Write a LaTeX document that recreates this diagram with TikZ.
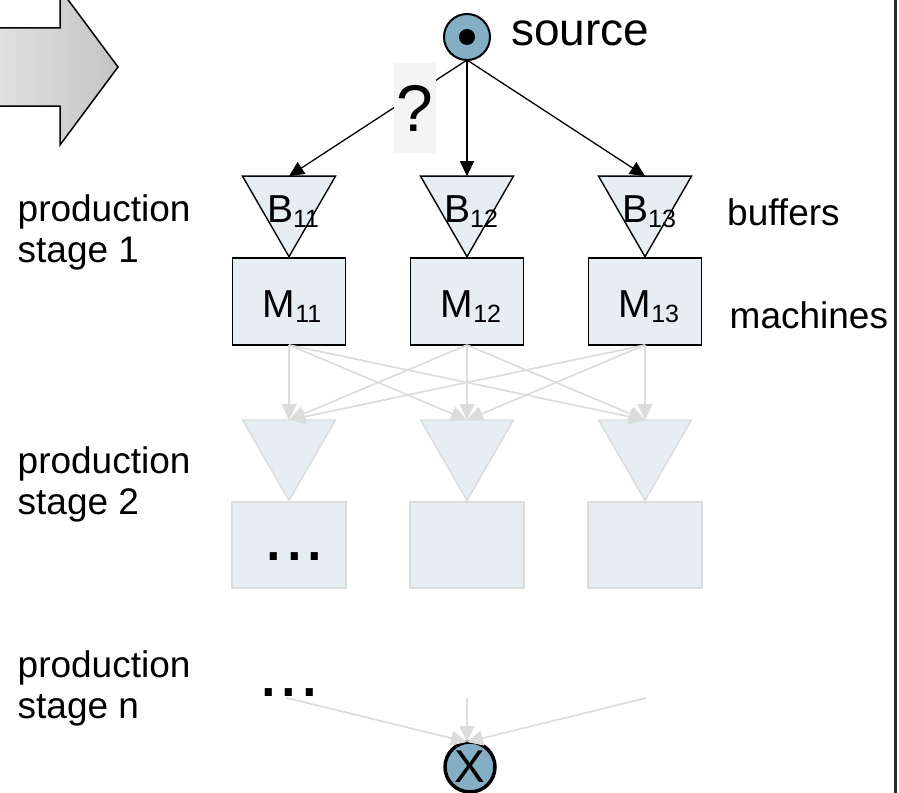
\documentclass[tikz,border=0pt]{standalone}
\usepackage{fontspec}
\setmainfont{Liberation Sans}
\usetikzlibrary{shapes.geometric,arrows.meta}

\definecolor{cellfill}{HTML}{E6EEF2}
\definecolor{ghost}{HTML}{DCDCDC}
\definecolor{portblue}{HTML}{84AEC4}
\definecolor{qbg}{HTML}{F4F4F4}
\definecolor{frameline}{HTML}{2A2A2A}

\newcommand{\setfs}[1]{\fontsize{#1}{#1}\selectfont}
\newcommand{\lowidx}[1]{\raisebox{-5.5pt}{\setfs{25}#1}}

\begin{document}
\begin{tikzpicture}[x=1pt,y=-1pt,
  buf/.style={regular polygon, regular polygon sides=3, shape border rotate=180,
    minimum size=107.4pt, inner sep=0pt, outer sep=0pt,
    fill=cellfill, draw=black, line width=1.4pt},
  ghostbuf/.style={buf, draw=ghost},
  mach/.style={rectangle, minimum width=113pt, minimum height=87pt,
    inner sep=0pt, outer sep=0pt, fill=cellfill, draw=black, line width=1.4pt},
  ghostmach/.style={mach, draw=ghost, minimum width=114pt, minimum height=86pt},
  celltext/.style={inner sep=0pt, font=\setfs{39}},
  dotstext/.style={inner sep=0pt, font=\setfs{74}},
  sidetext/.style={inner sep=0pt, font=\setfs{37}},
  stagetext/.style={inner sep=0pt, align=left, font=\fontsize{37}{41}\selectfont},
  flow/.style={line width=1.3pt, draw=black, -{Triangle[length=15pt,width=14pt]}},
  ghostflow/.style={line width=1.7pt, draw=ghost, -{Triangle[length=16pt,width=15pt]}},
  port/.style={circle, draw=black, fill=portblue, inner sep=0pt, outer sep=0pt}
]
\useasboundingbox (0,0) rectangle (899,792);

% entry arrow on the left edge
\draw[line width=1.5pt, left color=black!11, right color=black!23, line join=miter]
  (-12,28) -- (60,28) -- (60,-11) -- (118,67) -- (60,145) -- (60,106) -- (-12,106) -- cycle;

% right frame edge
\draw[line width=2.5pt, frameline] (895.5,-5) -- (895.5,800);

% source
\node[port, line width=2pt, minimum size=46pt] (src) at (467,37) {};
\node[circle, fill=black, inner sep=0pt, minimum size=16pt] (srcdot) at (src.center) {};
\node[inner sep=0pt, anchor=base west, font=\setfs{46}] (srclabel) at (511,46) {source};

% production stage 1
\foreach \i/\x in {1/289, 2/467, 3/645} {
  \node[buf] (b1\i) at (\x,203) {};
  \node[mach] (m1\i) at (\x,301.5) {};
}
\node[celltext, anchor=base] (b11t) at (293,222) {B\lowidx{11}};
\node[celltext, anchor=base] (b12t) at (471,222) {B\lowidx{12}};
\node[celltext, anchor=base] (b13t) at (649,222) {B\lowidx{13}};
\node[celltext, anchor=base] (m11t) at (292,317) {M\lowidx{11}};
\node[celltext, anchor=base] (m12t) at (471,317) {M\lowidx{12}};
\node[celltext, anchor=base] (m13t) at (649,317) {M\lowidx{13}};

% arrows from the source to the buffers
\foreach \i in {1,2,3}
  \draw[flow] (src.south) -- (b1\i.north);

% open question on the left branch
\node[rectangle, fill=qbg, minimum width=42pt, minimum height=90pt, inner sep=0pt,
  font=\setfs{66}] (ask) at (415,108) {\raisebox{-3pt}{?}};

% production stage 2 (faded)
\foreach \i/\x in {1/289, 2/467, 3/645} {
  \node[ghostbuf] (b2\i) at (\x,446.85) {};
  \node[ghostmach] (m2\i) at (\x,545) {};
}
\node[dotstext, anchor=base] (dots2) at (294.5,560.5) {...};

\foreach \i in {1,2,3}
  \foreach \j in {1,2,3}
    \draw[ghostflow] (m1\i.south) -- (b2\j.north);

% production stage n (faded)
\node[dotstext, anchor=base] (dotsn) at (289,696.5) {...};
\node[port, line width=3.5pt, minimum size=50pt, font=\setfs{46}] (sink) at (470,767) {X};
\coordinate (n1) at (287,698);
\coordinate (n2) at (467,698);
\coordinate (n3) at (646,698);
\foreach \k in {1,2,3}
  \draw[ghostflow] (n\k) -- ([xshift=-3pt]sink.north);

% row and stage labels
\node[sidetext, anchor=base west] (buflabel) at (727,225) {buffers};
\node[sidetext, anchor=base west] (machlabel) at (729.5,328) {machines};
\node[stagetext, anchor=base west] (st1) at (17.5,262) {production\\stage 1};
\node[stagetext, anchor=base west] (st2) at (17.5,514) {production\\stage 2};
\node[stagetext, anchor=base west] (stn) at (17.5,718) {production\\stage n};
\end{tikzpicture}
\end{document}
